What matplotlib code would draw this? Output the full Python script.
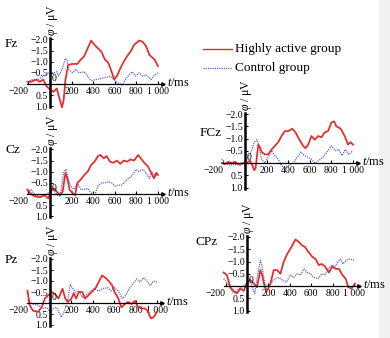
import matplotlib
matplotlib.use('Agg')
import matplotlib.pyplot as plt
from matplotlib.lines import Line2D
from matplotlib.patches import Rectangle

plt.rcParams['font.family'] = ['Liberation Serif', 'DejaVu Serif']
plt.rcParams['mathtext.fontset'] = 'custom'
plt.rcParams['mathtext.rm'] = 'Liberation Serif'
plt.rcParams['mathtext.it'] = 'Liberation Serif:italic'

RED = '#e62a2a'
BLUE = '#6464cc'

# ERP waveforms (ms, μV)
fz_red_t = [-210, -175, -127, -95, -63, -32, 0, 32, 63, 79, 111, 127, 143, 168, 206, 254, 286, 317, 349, 381,
            413, 444, 476, 508, 540, 571, 594, 625, 651, 683, 714, 746, 778, 825, 857, 889, 921, 968, 1000]
fz_red = [-0.1, -0.1, -0.2, -0.1, -0.2, 0.1, 0.25, 0.35, 0.2, 0.5, 1.05, 0.7, -0.2, -0.85, -0.9, -0.9, -1.1, -1.25,
          -1.6, -1.95, -1.75, -1.6, -1.45, -1.1, -0.95, -0.55, -0.2, -0.4, -0.7, -1.0, -1.25, -1.45, -1.75, -1.95,
          -1.9, -1.7, -1.3, -1.1, -0.8]
fz_ctl_t = [-210, -159, -111, -63, -16, 32, 63, 79, 111, 143, 159, 175, 206, 238, 270, 317, 349, 381, 429, 476,
            524, 556, 594, 625, 667, 698, 730, 762, 794, 825, 857, 889, 937, 968, 1000]
fz_ctl = [-0.1, -0.2, -0.2, -0.35, -0.5, -0.5, -0.55, -0.35, -0.65, -1.15, -1.05, -0.65, -0.5, -0.65, -0.5, -0.55,
          -0.35, -0.15, -0.2, -0.25, -0.3, -0.35, -0.2, -0.05, 0.05, -0.2, -0.4, -0.55, -0.35, -0.5, -0.35, -0.4,
          -0.2, -0.4, -0.5]

cz_red_t = [-210, -175, -143, -95, -48, -16, 16, 41, 63, 95, 117, 143, 162, 181, 206, 232, 254, 286, 317, 349, 381,
            413, 444, 467, 498, 524, 556, 587, 619, 651, 683, 714, 746, 778, 816, 849, 873, 905, 937, 962, 984, 1000]
cz_red = [-0.2, 0, 0.1, 0.15, 0.05, 0.2, -0.2, -0.25, -0.1, 0.05, -0.1, -0.95, -0.65, -0.2, -0.05, 0.05, -0.5, -0.65,
          -0.85, -1.0, -1.3, -1.45, -1.7, -1.75, -1.6, -1.7, -1.45, -1.4, -1.5, -1.35, -1.5, -1.45, -1.55, -1.5,
          -1.75, -1.55, -1.4, -1.25, -0.95, -0.7, -0.95, -0.85]
cz_ctl_t = [-210, -175, -143, -95, -48, 0, 32, 63, 95, 127, 149, 168, 190, 222, 254, 286, 317, 349, 381, 413, 444,
            476, 508, 540, 571, 603, 635, 667, 714, 746, 778, 794, 825, 857, 889, 921, 943, 975, 1000]
cz_ctl = [-0.1, -0.2, 0.05, 0.1, 0.05, -0.1, -0.2, 0.05, 0.1, -1.0, -1.1, -0.7, -0.35, -0.2, -0.5, -0.2, -0.2, -0.25,
          -0.05, 0.05, -0.35, -0.5, -0.5, -0.55, -0.5, -0.35, -0.4, -0.4, -0.65, -0.75, -0.95, -1.1, -1.0, -1.1,
          -0.95, -0.7, -1.0, -0.8, -0.95]

pz_red_t = [-210, -190, -159, -111, -79, -48, -16, 16, 48, 79, 117, 143, 168, 200, 222, 244, 270, 302, 327, 359, 390,
            429, 460, 486, 517, 549, 581, 603, 635, 667, 698, 730, 762, 794, 825, 857, 889, 911, 943, 968, 1000]
pz_red = [-0.55, 0.1, 0.35, 0.4, 0.2, -0.2, -0.35, -0.5, -0.4, -0.2, -0.65, -0.2, -0.05, -0.2, -0.45, -0.2, -0.5,
          -0.5, -0.2, -0.35, -0.5, -0.7, -1.0, -1.25, -1.15, -1.0, -0.8, -0.5, -0.25, 0.2, 0.05, -0.05, 0.05, -0.1,
          0.2, 0.25, 0.25, 0.35, 0.7, 0.65, 0.4]
pz_ctl_t = [-210, -159, -111, -63, -32, 0, 32, 63, 105, 137, 168, 190, 213, 238, 270, 302, 333, 371, 413, 454, 492,
            540, 571, 603, 644, 676, 708, 740, 771, 810, 841, 873, 905, 937, 968, 1000]
pz_ctl = [-0.15, 0.05, 0.1, 0.25, 0.2, 0.4, 0.25, 0.2, 0.65, 0.35, -0.2, -0.85, -0.65, -0.5, -0.55, -0.25, -0.35,
          -0.5, -0.65, -0.55, -0.65, -0.7, -0.55, -0.7, -0.5, -0.2, -0.35, -0.65, -0.85, -1.1, -0.95, -1.15, -1.0,
          -0.8, -1.0, -0.95]

fcz_red_t = [-215, -185, -154, -123, -92, -62, -15, 15, 46, 68, 86, 98, 123, 138, 154, 185, 215, 246, 277, 308, 338,
             369, 400, 437, 468, 492, 517, 538, 560, 585, 615, 646, 677, 708, 738, 769, 800, 825, 846, 886, 923, 954,
             978, 1000]
fcz_red = [0, 0.05, -0.05, 0, -0.05, 0.05, 0, 0, -0.1, 0.1, 0.3, 0.2, -0.75, -0.65, -0.45, -0.35, -0.35, -0.55, -0.7,
           -0.85, -1.1, -1.3, -1.3, -1.4, -1.25, -1.05, -0.85, -0.7, -0.6, -0.75, -1.1, -0.95, -1.1, -1.05, -1.25,
           -1.3, -1.65, -1.7, -1.5, -1.4, -1.1, -0.75, -0.85, -0.75]
fcz_ctl_t = [-215, -185, -138, -92, -46, 0, 31, 62, 86, 108, 129, 154, 185, 215, 246, 277, 308, 338, 369, 406, 446,
             486, 517, 548, 578, 615, 646, 683, 723, 769, 800, 837, 868, 898, 929, 960, 1000]
fcz_ctl = [-0.15, 0, 0.1, 0.05, 0.1, 0, -0.25, -0.5, -0.85, -0.95, -0.7, -0.15, 0, -0.25, -0.5, -0.3, -0.15, 0.1,
           0.25, 0.1, 0, -0.25, -0.45, -0.3, -0.25, -0.15, 0, -0.1, -0.25, -0.5, -0.7, -0.5, -0.55, -0.3, -0.55,
           -0.35, -0.5]

cpz_red_t = [-219, -188, -156, -125, -94, -62, -31, 0, 31, 62, 94, 125, 141, 166, 188, 219, 250, 281, 312, 344, 375,
             416, 453, 484, 516, 541, 572, 609, 641, 672, 697, 728, 766, 797, 828, 859, 891, 922, 947, 978, 1010]
cpz_red = [-0.55, -0.45, 0.05, 0.2, 0.3, 0.1, 0.2, -0.15, -0.25, -0.1, 0.05, -0.65, -0.45, 0.05, 0.2, -0.1, -0.65,
           -0.65, -0.5, -1.0, -1.3, -1.6, -1.9, -1.8, -1.65, -1.6, -1.4, -1.2, -1.1, -0.85, -0.9, -0.8, -0.55, -0.8,
           -0.7, -0.7, -0.45, -0.3, 0.05, 0.1, -0.1]
cpz_ctl_t = [-219, -188, -156, -125, -94, -62, -31, 0, 31, 72, 94, 125, 141, 166, 197, 228, 266, 297, 328, 366, 406,
             438, 469, 500, 531, 563, 594, 625, 666, 697, 728, 759, 791, 822, 853, 875, 897, 928, 959, 1000]
cpz_ctl = [-0.3, -0.15, 0.1, 0.3, 0.2, 0.05, 0, -0.1, -0.15, 0.3, -0.3, -1.05, -0.8, -0.1, 0.05, -0.15, -0.3, -0.35,
           -0.25, -0.15, -0.45, -0.35, -0.5, -0.45, -0.7, -0.55, -0.5, -0.35, -0.3, -0.5, -0.45, -0.7, -0.85, -0.8,
           -1.0, -1.1, -0.9, -1.05, -1.1, -1.05]

x_ticks = [-200, 200, 400, 600, 800, 1000]
x_labels = ['\u2212200', '200', '400', '600', '800', '1 000']
y_ticks = [-2.0, -1.5, -1.0, -0.5, 0.5, 1.0]
y_labels = ['\u22122.0', '\u22121.5', '\u22121.0', '\u22120.5', '0.5', '1.0']

W, H = 390, 338
fig = plt.figure(figsize=(3.9, 3.38), dpi=100)
fig.patch.set_facecolor('white')


def panel(name, name_xy, yx, zy, ppm, ppu, red_t, red_v, ctl_t, ctl_v):
    # yx, zy: pixel position of the origin; ppm: px per ms; ppu: px per μV
    x0, x1 = -260, 1250
    y0, y1 = -2.3, 1.2
    ax = fig.add_axes([(yx + x0 * ppm) / W, 1 - (zy + y1 * ppu) / H,
                       (x1 - x0) * ppm / W, (y1 - y0) * ppu / H])
    ax.set_xlim(x0, x1)
    ax.set_ylim(y1, y0)
    ax.patch.set_alpha(0)

    ax.plot(ctl_t, ctl_v, color=BLUE, lw=0.9, ls=(0, (1, 0.8)))
    ax.plot(red_t, red_v, color=RED, lw=1.25)

    for s in ['top', 'right']:
        ax.spines[s].set_visible(False)
    ax.spines['left'].set_position(('data', 0))
    ax.spines['left'].set_bounds(-2.05, 1.05)
    ax.spines['left'].set_linewidth(1.8)
    ax.spines['bottom'].set_position(('data', 0))
    ax.spines['bottom'].set_bounds(-215, 1045)
    ax.spines['bottom'].set_linewidth(0.9)
    ax.plot([1045], [0], marker='>', ms=2.5, color='k', clip_on=False)

    ax.set_xticks(x_ticks, x_labels)
    ax.set_yticks(y_ticks, y_labels)
    ax.tick_params(axis='x', direction='in', length=2, width=0.8, pad=2, labelsize=7)
    ax.tick_params(axis='y', direction='in', length=2, width=0.8, pad=1.5, labelsize=7)
    ax.get_xticklabels()[0].set_horizontalalignment('right')
    ax.text(12, -0.03, '0', ha='left', va='bottom', fontsize=7)

    fig.text(name_xy[0] / W, 1 - name_xy[1] / H, name, ha='left', va='center', fontsize=9.5)
    fig.text((yx + 2) / W, 1 - (zy - 2.05 * ppu - 2) / H, r'$\varphi$ / μV',
             rotation=90, ha='center', va='bottom', fontsize=8.5)
    fig.text((yx + 1045 * ppm + 4) / W, 1 - (zy - 1) / H, r'$t$/ms',
             ha='left', va='center', fontsize=9)


panel('Fz', (5, 44), 50, 84, 0.108, 22.3, fz_red_t, fz_red, fz_ctl_t, fz_ctl)
panel('Cz', (5, 150), 50, 194, 0.108, 22.3, cz_red_t, cz_red, cz_ctl_t, cz_ctl)
panel('Pz', (5, 260), 50, 303, 0.107, 22.0, pz_red_t, pz_red, pz_ctl_t, pz_ctl)
panel('FCz', (200, 133), 245, 163, 0.108, 24.5, fcz_red_t, fcz_red, fcz_ctl_t, fcz_ctl)
panel('CPz', (195, 242), 247, 286, 0.107, 24.5, cpz_red_t, cpz_red, cpz_ctl_t, cpz_ctl)

# legend
fig.add_artist(Line2D([203 / W, 232 / W], [1 - 49 / H] * 2, color=RED, lw=1))
fig.add_artist(Line2D([203 / W, 232 / W], [1 - 68 / H] * 2, color=BLUE, lw=0.9, ls=(0, (1, 0.8))))
fig.text(235 / W, 1 - 49 / H, 'Highly active group', ha='left', va='center', fontsize=9.5)
fig.text(235 / W, 1 - 68 / H, 'Control group', ha='left', va='center', fontsize=9.5)

# light grey strip at the right edge of the scan
fig.add_artist(Rectangle((379 / W, 0), 11 / W, 1, transform=fig.transFigure,
                         facecolor='#f1f1f1', edgecolor='none'))

fig.savefig('out.png', dpi=100)
